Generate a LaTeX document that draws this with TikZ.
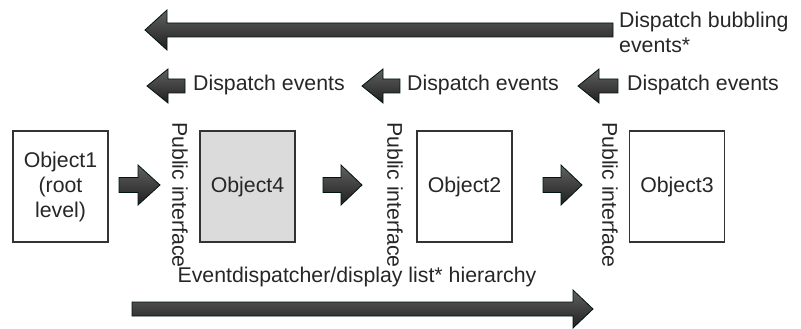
\documentclass[tikz,border=0pt]{standalone}
\usepackage{fontspec}
\setmainfont{Liberation Sans}
\begin{document}
\begin{tikzpicture}[x=1pt,y=-1pt,
  txt/.style={inner sep=0pt, text=black!85, font=\fontsize{21.3}{25}\selectfont},
  objbox/.style={draw=black!80, line width=1.1pt, minimum width=95pt, minimum height=111pt,
    inner sep=0pt, align=center, text=black!85, font=\fontsize{21.3}{25}\selectfont},
  blockfill/.style={draw=black!85!teal, line width=0.8pt, line join=miter,
    top color=black!62, bottom color=black!88}
]
\useasboundingbox (0,0) rectangle (801,329);

% block arrow: tail x, head base x, tip x, centre y, body half height, head half height
\newcommand{\blockarrow}[6]{%
  \path[blockfill] ({#1},{#4-#5}) -- ({#2},{#4-#5}) -- ({#2},{#4-#6}) -- ({#3},{#4})
    -- ({#2},{#4+#6}) -- ({#2},{#4+#5}) -- ({#1},{#4+#5}) -- cycle;}

% bubbling arrow along the top
\blockarrow{613}{167}{145}{30}{7}{20}
\node[txt, anchor=west, align=left] (bubble) at (619,32.5) {Dispatch bubbling\\events*};

% per-stage dispatch arrows
\blockarrow{185}{168}{147}{86}{7}{17}
\blockarrow{400}{383}{362}{86}{7}{17}
\blockarrow{618}{599}{578}{86}{7}{17}
\node[txt, anchor=west] (d1) at (193,85) {Dispatch events};
\node[txt, anchor=west] (d2) at (407,85) {Dispatch events};
\node[txt, anchor=west] (d3) at (627,85) {Dispatch events};

% objects
\node[objbox] (o1) at (60.5,186.5) {Object1\\(root\\level)};
\node[objbox, fill=black!14] (o4) at (247.5,186.5) {Object4};
\node[objbox] (o2) at (464.5,186.5) {Object2};
\node[objbox] (o3) at (677,186.5) {Object3};

% public interfaces
\node[txt, rotate=-90] (p1) at (180,195) {Public interface};
\node[txt, rotate=-90] (p2) at (395,195) {Public interface};
\node[txt, rotate=-90] (p3) at (610,195) {Public interface};

% arrows between objects
\blockarrow{119}{138}{160}{185}{7.5}{20}
\blockarrow{323}{341}{362}{185}{7.5}{20}
\blockarrow{543}{561}{582}{185}{7.5}{20}

% hierarchy arrow along the bottom
\node[txt] (hier) at (357,277) {Eventdispatcher/display list* hierarchy};
\blockarrow{132}{573}{593}{309}{7}{19}
\end{tikzpicture}
\end{document}
